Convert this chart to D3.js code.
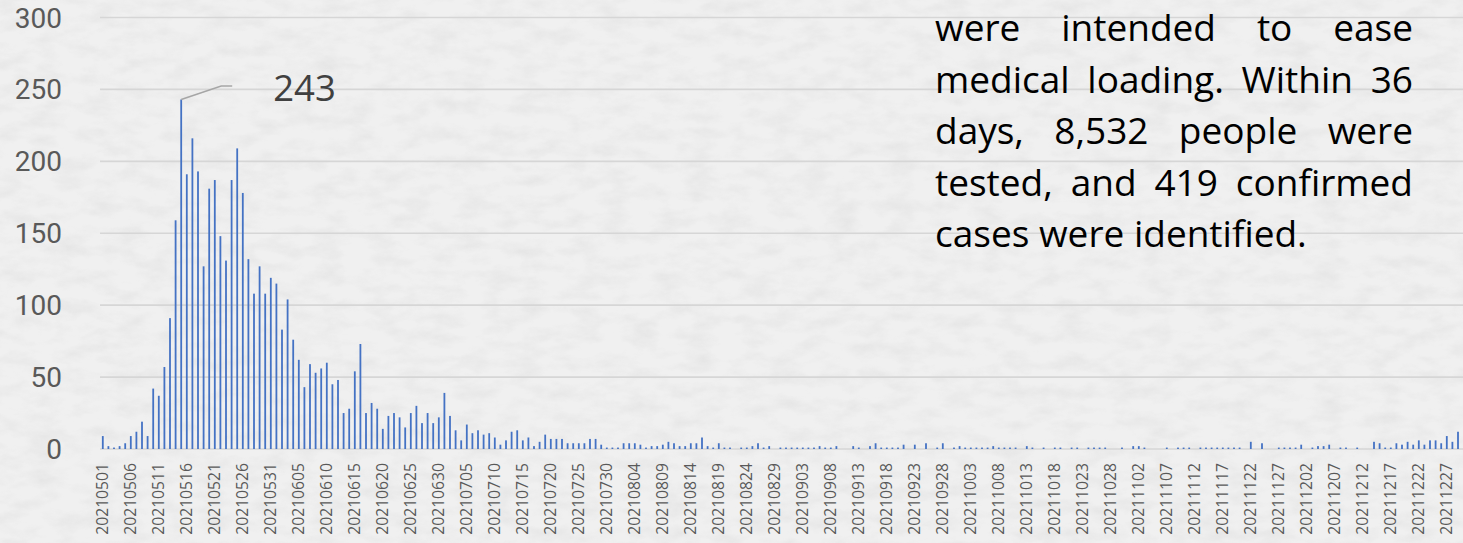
<!DOCTYPE html>
<html>
<head>
<meta charset="utf-8">
<script src="https://cdn.jsdelivr.net/npm/d3@7/dist/d3.min.js"></script>
<style>
  html, body { margin: 0; padding: 0; background: #eeeeee; overflow: hidden; }
  svg { display: block; }
</style>
</head>
<body>
<svg id="chart" width="1463" height="543"></svg>
<script>
// ---------- data ----------
const startDate = new Date(2021, 4, 1);
const dayCount = 243;
const cases = [
  9,2,1,2,4,9,12,19,9,42,
  37,57,91,159,243,191,216,193,127,181,
  187,148,131,187,209,178,132,108,127,108,
  119,115,83,104,76,62,43,59,53,56,
  60,45,48,25,28,54,73,25,32,28,
  14,23,25,22,15,25,30,18,25,18,
  22,39,23,13,6,17,11,13,10,11,
  8,3,6,12,13,6,8,2,5,10,
  7,7,7,4,4,4,4,7,7,3,
  1,1,1,4,4,4,3,1,2,2,
  3,5,4,2,2,4,4,8,2,1,
  4,1,1,0,1,1,2,4,1,2,
  0,1,1,1,1,1,1,1,2,1,
  1,2,0,0,2,1,0,2,4,1,
  1,1,1,3,0,3,0,4,0,1,
  4,0,1,2,1,1,1,1,1,2,
  1,1,1,1,0,2,1,0,1,0,
  1,1,0,1,1,0,1,1,1,1,
  0,0,1,0,2,2,1,0,0,0,
  1,0,1,1,1,0,1,1,1,1,
  1,1,1,1,0,5,0,4,0,0,
  1,1,1,1,3,0,1,2,2,3,
  0,1,1,0,1,0,0,5,4,1,
  1,4,3,5,3,6,3,6,6,4,
  9,5,12
];
const yTicks = [0, 50, 100, 150, 200, 250, 300];
const peakLabel = "243";
const textLines = [
  "were intended to ease",
  "medical loading. Within 36",
  "days, 8,532 people were",
  "tested, and 419 confirmed",
  "cases were identified."
];

const fmt = d3.timeFormat("%Y%m%d");
const dates = d3.timeDay.range(startDate, d3.timeDay.offset(startDate, dayCount)).map(fmt);
const tickLabels = dates.filter((d, i) => i % 5 === 0);

// ---------- layout ----------
const W = 1463, H = 543;
const left = 100, step = 5.6;
const x = d3.scaleBand().domain(dates).range([left, left + step * dates.length]).paddingInner(0).paddingOuter(0);
const y = d3.scaleLinear().domain([0, 300]).range([449, 17.5]);

const svg = d3.select("#chart");
const defs = svg.append("defs");
const filt = defs.append("filter").attr("id", "paper").attr("x", 0).attr("y", 0).attr("width", "100%").attr("height", "100%");
filt.append("feTurbulence").attr("type", "fractalNoise").attr("baseFrequency", "0.035 0.07").attr("numOctaves", 4).attr("seed", 11).attr("result", "n");
filt.append("feColorMatrix").attr("in", "n").attr("type", "matrix")
  .attr("values", "0 0 0 0 0.5  0 0 0 0 0.5  0 0 0 0 0.5  0.9 0 0 0 -0.36");

svg.append("rect").attr("width", W).attr("height", H).attr("fill", "#f0f0f0");
svg.append("rect").attr("width", W).attr("height", H).attr("filter", "url(#paper)").attr("opacity", 0.4);

// gridlines
svg.append("g").selectAll("line").data(yTicks).join("line")
  .attr("x1", left).attr("x2", W)
  .attr("y1", d => y(d)).attr("y2", d => y(d))
  .attr("stroke", "#d6d6d6").attr("stroke-width", 1.6);

// y labels
svg.append("g").selectAll("text").data(yTicks).join("text")
  .attr("x", 62).attr("y", d => y(d) + 10)
  .attr("text-anchor", "end")
  .attr("font-family", "Roboto, 'Open Sans', sans-serif").attr("font-size", 28)
  .attr("fill", "#595959")
  .text(d => d);

// bars
const barW = 1.8;
svg.append("g").selectAll("rect").data(cases).join("rect")
  .attr("x", (d, i) => x(dates[i]) + x.bandwidth() / 2 - barW / 2)
  .attr("width", barW)
  .attr("y", d => y(d))
  .attr("height", d => y(0) - y(d))
  .attr("fill", "#4472C4");

// x labels
svg.append("g").selectAll("text").data(tickLabels).join("text")
  .attr("transform", d => `translate(${x(d) + x.bandwidth() / 2},463) rotate(-90)`)
  .attr("dy", "0.36em")
  .attr("text-anchor", "end")
  .attr("font-family", "'Open Sans', sans-serif").attr("font-size", 15.7)
  .attr("fill", "#595959")
  .text(d => d);

// peak annotation
const peakIdx = cases.indexOf(d3.max(cases));
const px = x(dates[peakIdx]) + x.bandwidth() / 2, py = y(cases[peakIdx]);
svg.append("path")
  .attr("d", `M${px},${py} L${px + 40},${py - 13.5} L${px + 51},${py - 13.5}`)
  .attr("fill", "none").attr("stroke", "#a6a6a6").attr("stroke-width", 1.6);
svg.append("text")
  .attr("x", px + 92).attr("y", py + 1.5)
  .attr("font-family", "'Open Sans', sans-serif").attr("font-size", 36.5)
  .attr("fill", "#404040")
  .text(peakLabel);

// justified paragraph
const fs = 37;
const tx0 = 935, tx1 = 1413, baseline0 = 41, lineH = 51.5;
const tg = svg.append("g").attr("font-family", "'Open Sans', sans-serif").attr("font-size", fs).attr("fill", "#000");
textLines.forEach((line, li) => {
  const words = line.split(" ");
  const yy = baseline0 + li * lineH;
  const nodes = words.map(w => tg.append("text").attr("y", yy).text(w));
  const widths = nodes.map(n => n.node().getComputedTextLength());
  const total = d3.sum(widths);
  const last = li === textLines.length - 1;
  const space = fs * 0.26;
  const gap = last ? space : (tx1 - tx0 - total) / (words.length - 1);
  let cx = tx0;
  nodes.forEach((n, k) => { n.attr("x", cx); cx += widths[k] + gap; });
});
</script>
</body>
</html>
